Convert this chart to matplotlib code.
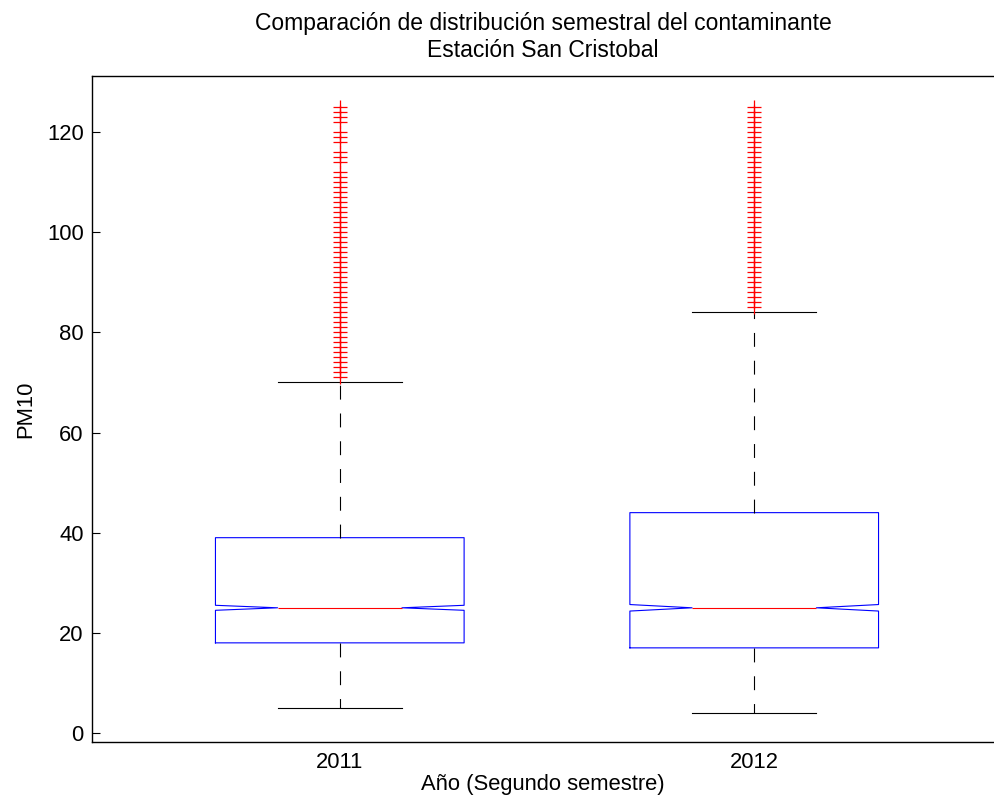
import matplotlib
matplotlib.use("Agg")
import matplotlib.pyplot as plt

# ---- data ----
years = ["2011", "2012"]
medians = [25.0, 25.0]
q1 = [18.0, 17.0]
q3 = [39.0, 44.0]
whisk_lo = [5.0, 4.0]
whisk_hi = [70.0, 84.0]
notch_lo = [24.5, 24.35]
notch_hi = [25.5, 25.65]
outliers_2011 = [71, 72, 73, 74, 75, 76, 77, 78, 79, 80, 81, 82, 83, 84, 85,
                 86, 87, 88, 89, 90, 91, 92, 93, 94, 95, 96, 97, 98, 99, 100,
                 101, 102, 103, 104, 105, 106, 107, 108, 109, 110, 111, 112,
                 114, 115, 116, 118, 119, 120, 122, 123, 124, 125]
outliers_2012 = [85, 86, 87, 88, 89, 90, 91, 92, 93, 94, 95, 96, 97, 98, 99,
                 100, 101, 102, 103, 104, 105, 106, 107, 108, 109, 110, 111,
                 112, 113, 114, 115, 116, 117, 118, 119, 120, 121, 122, 123,
                 124, 125]
outliers = [outliers_2011, outliers_2012]

title_text = "Comparación de distribución semestral del contaminante\nEstación San Cristobal"
xlabel_text = "Año (Segundo semestre)"
ylabel_text = "PM10"
yticks = [0, 20, 40, 60, 80, 100, 120]

plt.rcParams["font.family"] = ["Liberation Sans", "DejaVu Sans"]
plt.rcParams["lines.scale_dashes"] = False

fig = plt.figure(figsize=(9.94, 7.97), dpi=100)
ax = fig.add_axes([92 / 994, 55 / 797, 1 - 92 / 994, (742 - 76) / 797])

stats = []
for i in range(len(years)):
    stats.append(dict(med=medians[i], q1=q1[i], q3=q3[i],
                      whislo=whisk_lo[i], whishi=whisk_hi[i],
                      cilo=notch_lo[i], cihi=notch_hi[i],
                      fliers=outliers[i], label=years[i]))

lw = 0.8
ax.bxp(stats, positions=[1, 2], widths=0.6, shownotches=True,
       boxprops=dict(color="blue", linewidth=lw),
       medianprops=dict(color="red", linewidth=lw),
       whiskerprops=dict(color="black", linewidth=lw, linestyle=(0, (10, 10))),
       capprops=dict(color="black", linewidth=lw),
       flierprops=dict(marker="+", markeredgecolor="red", markersize=10,
                       markeredgewidth=0.9, linestyle="none"),
       capwidths=0.3)

ax.set_xlim(1 - 248 / 414.8, 2 + 240 / 414.8)
ax.set_ylim(-(742 - 733) / 5.008, (733 - 76) / 5.008)
ax.set_yticks(yticks)
ax.set_xticks([1, 2])
ax.set_xticklabels(years)
ax.tick_params(axis="y", direction="in", length=6, width=0.8, labelsize=15.8, pad=6)
ax.tick_params(axis="x", length=0, labelsize=15.8, pad=7)
ax.spines["right"].set_visible(False)
for s in ["left", "bottom", "top"]:
    ax.spines[s].set_linewidth(1.0)

ax.set_title(title_text, fontsize=16.5, pad=14, linespacing=1.22)
ax.set_xlabel(xlabel_text, fontsize=15.8, labelpad=1)
ax.set_ylabel(ylabel_text, fontsize=15.8, labelpad=8)

fig.savefig("out.png", dpi=100)
